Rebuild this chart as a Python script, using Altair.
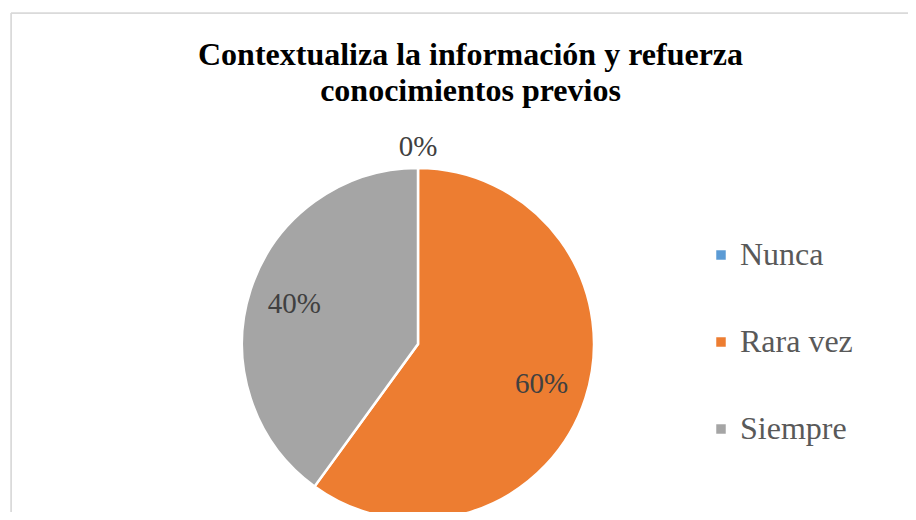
import altair as alt
import pandas as pd

categories = ["Nunca", "Rara vez", "Siempre"]
values = [0, 60, 40]
labels = ["0%", "60%", "40%"]
colors = ["#5b9bd5", "#ed7d31", "#a5a5a5"]
title_lines = ["Contextualiza la información y refuerza", "conocimientos previos"]

df = pd.DataFrame({"cat": categories, "val": values, "lab": labels, "ord": range(len(categories))})

CX, CY, R = 407, 331, 176
FONT = "Liberation Serif"
W, H = 897, 499

base = alt.Chart(df)

pie = base.mark_arc(outerRadius=R, stroke="white", strokeWidth=2.5).encode(
    theta=alt.Theta("val:Q", stack=True),
    order=alt.Order("ord:Q"),
    color=alt.Color(
        "cat:N",
        scale=alt.Scale(domain=categories, range=colors),
        legend=alt.Legend(
            title=None,
            orient="none",
            legendX=694,
            legendY=226,
            symbolType="square",
            symbolSize=90,
            symbolStrokeWidth=0,
            labelFont=FONT,
            labelFontSize=32,
            labelColor="#595959",
            rowPadding=55,
            labelOffset=3,
        ),
    ),
    x=alt.value(CX),
    y=alt.value(CY),
)

lab_base = base.transform_joinaggregate(total="sum(val)").transform_window(
    cum="sum(val)", sort=[alt.SortField("ord")], frame=[None, 0]
).transform_calculate(mid="(datum.cum - datum.val/2) / datum.total * 2 * PI")

lab_in = lab_base.transform_filter("datum.val > 0").mark_text(
    font=FONT, fontSize=29, color="#404040", radius=130
).encode(
    theta=alt.Theta("mid:Q", scale=None),
    text="lab:N",
    x=alt.value(CX),
    y=alt.value(CY),
)

lab_out = lab_base.transform_filter("datum.val == 0").mark_text(
    font=FONT, fontSize=29, color="#404040", radius=197
).encode(
    theta=alt.Theta("mid:Q", scale=None),
    text="lab:N",
    x=alt.value(CX),
    y=alt.value(CY),
)

border = alt.Chart(pd.DataFrame({"k": [0]}))
top_line = border.mark_rule(color="#d9d9d9", strokeWidth=1.5).encode(
    x=alt.value(0), x2=alt.value(W), y=alt.value(0)
)
left_line = border.mark_rule(color="#d9d9d9", strokeWidth=1.5).encode(
    x=alt.value(0), y=alt.value(0), y2=alt.value(H)
)

chart = alt.layer(top_line, left_line, pie, lab_in, lab_out).properties(
    width=W,
    height=H,
    padding={"left": 3, "top": 5, "right": 0, "bottom": 0},
    autosize=alt.AutoSizeParams(type="none"),
    title=alt.TitleParams(
        text=title_lines,
        font=FONT,
        fontSize=32,
        fontWeight="bold",
        color="#000000",
        anchor="middle",
        offset=-96,
        dx=11,
        lineHeight=36,
    ),
).configure_view(stroke=None).configure(background="white")

chart.save("out.html", embed_options={"renderer": "svg", "actions": False})
